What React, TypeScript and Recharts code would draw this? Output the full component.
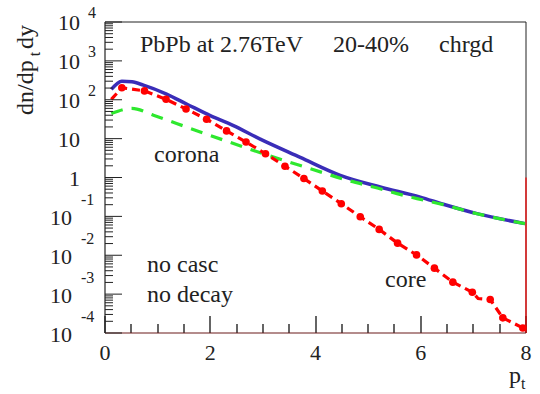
import React from 'react'
import { LineChart, Line, XAxis, YAxis, ReferenceLine } from 'recharts'

// total (blue, solid)
const totalPt = [0.12, 0.32, 0.51, 0.73, 1.17, 1.55, 2.0, 2.43, 2.95, 3.71, 4.47, 5.23, 5.99, 6.43, 7.07, 7.98]
const totalVal = [184, 301, 289, 238, 140, 78, 39, 22, 9.7, 3.3, 1.14, 0.57, 0.314, 0.205, 0.1175, 0.065]

// corona (green, dashed)
const coronaPt = [0.12, 0.51, 0.92, 1.36, 1.81, 2.63, 3.39, 3.9, 4.66, 5.1, 5.55, 5.93, 6.43, 7.07, 7.98]
const coronaVal = [44, 60, 40, 24.5, 14.9, 6.1, 2.77, 1.69, 0.81, 0.57, 0.385, 0.286, 0.2, 0.117, 0.065]

// core (red, dashed with markers)
const corePt = [0.12, 0.32, 0.75, 1.16, 1.54, 1.93, 2.31, 2.68, 3.05, 3.42, 3.78, 4.13, 4.49, 4.85, 5.21, 5.56, 5.92, 6.26, 6.61, 6.98, 7.09, 7.32, 7.56, 7.94]
const coreVal = [102, 203, 169, 103, 58, 31.6, 15.8, 8.2, 4.08, 1.95, 0.94, 0.449, 0.212, 0.098, 0.0462, 0.0205, 0.0102, 0.00466, 0.00203, 0.00112, 0.00077, 0.000726, 0.000245, 0.000135]
const coreMarked = [false, true, true, true, true, true, true, true, true, true, true, true, true, true, true, true, true, true, true, true, false, true, true, true]

const yMajor = [1e-4, 1e-3, 1e-2, 1e-1, 1, 10, 100, 1000, 10000]
const xTicks = [0, 0.5, 1, 1.5, 2, 2.5, 3, 3.5, 4, 4.5, 5, 5.5, 6, 6.5, 7, 7.5, 8]
const xLabels = [0, 2, 4, 6, 8]

const yTicks: number[] = []
yMajor.forEach((v, i) => {
  yTicks.push(v)
  if (i < yMajor.length - 1) for (let m = 2; m <= 9; m++) yTicks.push(v * m)
})

const total = totalPt.map((x, i) => ({ x, y: totalVal[i] }))
const corona = coronaPt.map((x, i) => ({ x, y: coronaVal[i] }))
const core = corePt.map((x, i) => ({ x, y: coreVal[i], marked: coreMarked[i] }))

const W = 540
const H = 394
const LEFT = 105
const FONT = 'Liberation Serif'
const INK = '#222'

function YTick(props: any) {
  const { payload } = props
  const v = payload.value
  const y = payload.coordinate ?? props.y
  const e = Math.round(Math.log10(v))
  const major = Math.abs(Math.log10(v) - e) < 1e-6
  let label = null
  if (major) {
    if (e === 0) {
      label = <text x={80} y={y + 8} textAnchor="end" fontSize={22} fontFamily={FONT} fill={INK}>1</text>
    } else if (e === 1) {
      label = <text x={80} y={y + 8} textAnchor="end" fontSize={22} fontFamily={FONT} fill={INK}>10</text>
    } else if (e > 1) {
      label = (
        <>
          <text x={80} y={y + 8} textAnchor="end" fontSize={22} fontFamily={FONT} fill={INK}>10</text>
          <text x={88} y={y - 4} fontSize={16} fontFamily={FONT} fill={INK}>{e}</text>
        </>
      )
    } else {
      label = (
        <>
          <text x={72} y={y + 9} textAnchor="end" fontSize={22} fontFamily={FONT} fill={INK}>10</text>
          <text x={81} y={y - 11} fontSize={16} fontFamily={FONT} fill={INK}>{e}</text>
        </>
      )
    }
  }
  return (
    <g>
      <line x1={LEFT} x2={LEFT + (major ? 17 : 8)} y1={y} y2={y} stroke={INK} strokeWidth={1} />
      {label}
    </g>
  )
}

function XTick(props: any) {
  const { payload } = props
  const v = payload.value
  if (!xLabels.includes(v)) return <g />
  return (
    <text x={props.x} y={360} textAnchor="middle" fontSize={22} fontFamily={FONT} fill={INK}>{v}</text>
  )
}

// inner tick mark at the bottom of the frame, placed by the x scale
function tickShape(len: number) {
  return (p: any) => {
    const x = Math.round(p.x1 ?? p.x2)
    const yb = Math.max(p.y1, p.y2)
    return <line x1={x} x2={x} y1={yb} y2={yb - len} stroke="#111" strokeWidth={1.3} />
  }
}

function CoreDot(props: any) {
  const { cx, cy, payload, index } = props
  if (!payload.marked) return <g key={`d${index}`} />
  return <circle key={`d${index}`} cx={cx} cy={cy} r={3.8} fill="#ff0000" stroke="none" />
}

export default function App() {
  return (
    <div style={{ position: 'absolute', left: 0, top: 0, width: W, height: H, background: '#fff' }}>
      <LineChart width={W} height={H} margin={{ top: 22, right: 14, bottom: 0, left: 0 }}>
        <XAxis
          type="number"
          dataKey="x"
          domain={[0, 8]}
          ticks={xTicks}
          interval={0}
          height={61}
          tickLine={false}
          axisLine={{ stroke: '#6a1a1a', strokeWidth: 1.2 }}
          tick={(p: any) => <XTick {...p} />}
        />
        <YAxis
          type="number"
          scale="log"
          domain={[1e-4, 1e4]}
          ticks={yTicks}
          interval={0}
          width={105}
          tickLine={false}
          allowDataOverflow
          axisLine={{ stroke: INK, strokeWidth: 1.2 }}
          tick={(p: any) => <YTick {...p} />}
        />
        {xTicks.map((v) => (
          <ReferenceLine
            key={`xt${v}`}
            x={v}
            stroke="#111"
            shape={tickShape(xLabels.includes(v) ? 17 : 9)}
          />
        ))}
        <ReferenceLine y={1e4} stroke={INK} strokeWidth={1} />
        <ReferenceLine x={8} stroke={INK} strokeWidth={1} />
        <ReferenceLine segment={[{ x: 8, y: 1 }, { x: 8, y: 1e-4 }]} stroke="#ff0000" strokeWidth={1.2} />
        <Line
          data={total}
          dataKey="y"
          type="monotone"
          stroke="#3a2db8"
          strokeWidth={3.5}
          dot={false}
          isAnimationActive={false}
        />
        <Line
          data={corona}
          dataKey="y"
          type="monotone"
          stroke="#2ee82e"
          strokeWidth={3.2}
          strokeDasharray="12 9"
          dot={false}
          isAnimationActive={false}
        />
        <Line
          data={core}
          dataKey="y"
          type="linear"
          stroke="#ff0000"
          strokeWidth={3.2}
          strokeDasharray="8 5"
          dot={(p: any) => <CoreDot {...p} />}
          isAnimationActive={false}
        />
      </LineChart>
      <svg
        width={W}
        height={H}
        style={{ position: 'absolute', left: 0, top: 0, pointerEvents: 'none' }}
        fontFamily={FONT}
        fill={INK}
      >
        <text x={140} y={52} fontSize={24}>PbPb at 2.76TeV</text>
        <text x={333} y={52} fontSize={24}>20-40%</text>
        <text x={439} y={52} fontSize={24}>chrgd</text>
        <text x={154} y={162} fontSize={24}>corona</text>
        <text x={385} y={287} fontSize={24}>core</text>
        <text x={147} y={272} fontSize={24}>no casc</text>
        <text x={147} y={302} fontSize={24}>no decay</text>
        <text transform="translate(33,115) rotate(-90)" fontSize={24}>
          dn/dp
          <tspan dx={4} dy={7} fontSize={16}>t</tspan>
          <tspan dx={3} dy={-7}>dy</tspan>
        </text>
        <text x={509} y={383} fontSize={24}>
          p<tspan dy={6} fontSize={16}>t</tspan>
        </text>
      </svg>
    </div>
  )
}
